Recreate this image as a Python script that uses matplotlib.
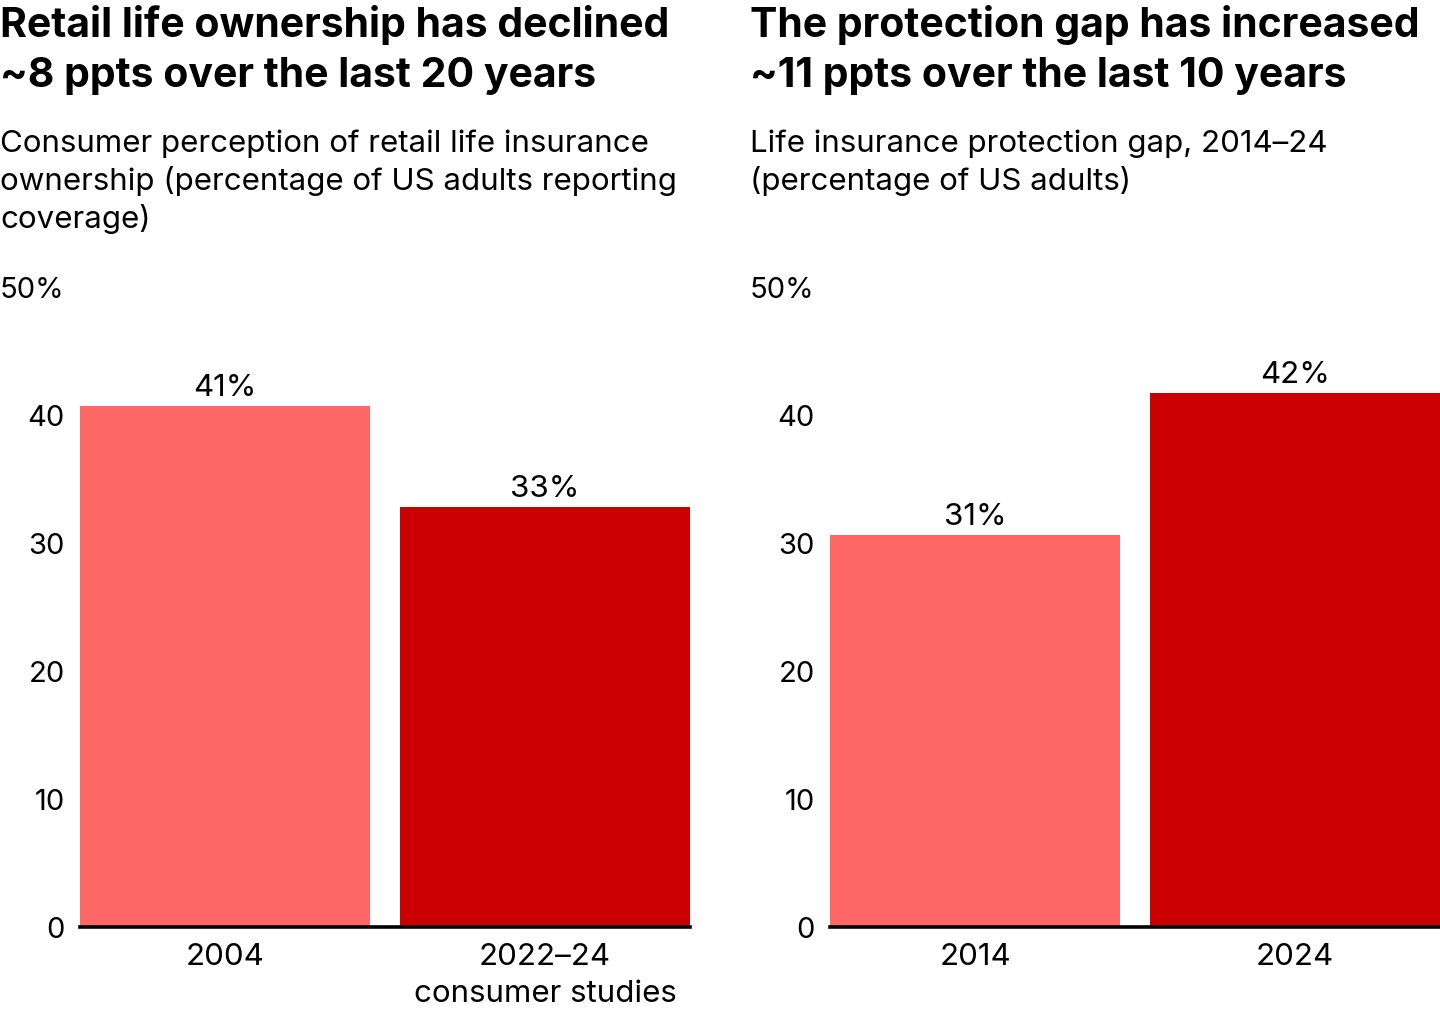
import matplotlib
matplotlib.use("Agg")
import matplotlib.pyplot as plt

plt.rcParams['font.family'] = ['Inter', 'DejaVu Sans']

W, H = 1440, 1012

# Data
left_categories = ["2004", "2022–24\nconsumer studies"]
left_values = [40.7, 32.8]
right_categories = ["2014", "2024"]
right_values = [30.6, 41.7]
bar_colors = ["#FF6666", "#CC0000"]
ytick_values = [0, 10, 20, 30, 40, 50]
ytick_labels = ["0", "10", "20", "30", "40", "50%"]

left_title = ["Retail life ownership has declined", "~8 ppts over the last 20 years"]
left_sub = ["Consumer perception of retail life insurance",
            "ownership (percentage of US adults reporting",
            "coverage)"]
right_title = ["The protection gap has increased", "~11 ppts over the last 10 years"]
right_sub = ["Life insurance protection gap, 2014–24",
             "(percentage of US adults)"]

fig = plt.figure(figsize=(W / 100, H / 100), dpi=100)


def fx(px):
    return px / W


def fy(py):
    return 1 - py / H


def panel(x0, x1, cats, vals):
    ax = fig.add_axes([fx(x0), fy(928), fx(x1 - x0), (928 - 288) / H])
    pos = list(range(len(cats)))
    ax.bar(pos, vals, width=0.906, color=bar_colors, zorder=2)
    ax.set_xlim(-0.453, len(cats) - 1 + 0.453)
    ax.set_ylim(0, 50)
    for s in ["top", "right", "left"]:
        ax.spines[s].set_visible(False)
    ax.spines["bottom"].set_linewidth(2.6)
    ax.spines["bottom"].set_color("black")
    ax.spines["bottom"].set_zorder(3)
    ax.set_yticks(ytick_values)
    ax.set_yticklabels(ytick_labels)
    ax.set_xticks(pos)
    ax.set_xticklabels(cats, linespacing=1.4)
    ax.tick_params(axis="y", length=0, pad=11, labelsize=21)
    ax.tick_params(axis="x", length=0, pad=11, labelsize=22.5)
    for p, v in zip(pos, vals):
        ax.annotate(f"{round(v)}%", (p, v), xytext=(0, 3.5), textcoords="offset points",
                    ha="center", va="bottom", fontsize=22.5)
    return ax


panel(80, 690, left_categories, left_values)
panel(830, 1440, right_categories, right_values)


def header(x, title, sub):
    for i, line in enumerate(title):
        fig.text(fx(x), fy(37 + 50 * i), line, fontsize=29.5, fontweight="bold",
                 ha="left", va="baseline")
    for i, line in enumerate(sub):
        fig.text(fx(x), fy(152 + 38 * i), line, fontsize=22.5, ha="left", va="baseline")


header(0, left_title, left_sub)
header(750, right_title, right_sub)

fig.savefig("out.png", dpi=100)
